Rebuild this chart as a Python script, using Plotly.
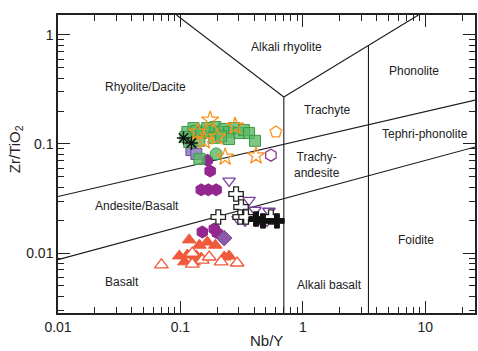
import plotly.graph_objects as go

# ---------------- data (Nb/Y, Zr/TiO2) ----------------
green_sq_x = [0.114, 0.128, 0.135, 0.148, 0.166, 0.175, 0.193, 0.208, 0.228, 0.250, 0.275,
              0.302, 0.331, 0.364, 0.407, 0.250, 0.189, 0.143, 0.118, 0.143, 0.110, 0.215]
green_sq_y = [0.129, 0.140, 0.132, 0.126, 0.140, 0.132, 0.143, 0.129, 0.137, 0.129, 0.140,
              0.126, 0.134, 0.126, 0.107, 0.111, 0.114, 0.107, 0.104, 0.073, 0.116, 0.118]
green_ci_x = [0.196]
green_ci_y = [0.081]

star_x = [0.175, 0.138, 0.157, 0.232, 0.415, 0.280, 0.200]
star_y = [0.166, 0.129, 0.107, 0.076, 0.078, 0.146, 0.116]

pent_x = [0.603]
pent_y = [0.129]
hexo_x = [0.549]
hexo_y = [0.079]

psq_x = [0.123, 0.135]
psq_y = [0.088, 0.081]

phex_x = [0.166, 0.175, 0.148, 0.169, 0.196, 0.151, 0.189, 0.200]
phex_y = [0.071, 0.0565, 0.038, 0.038, 0.038, 0.0156, 0.0166, 0.0153]

pdia_x = [0.228]
pdia_y = [0.0137]

ptri_x = [0.250, 0.364, 0.407, 0.529, 0.296, 0.338, 0.456, 0.510]
ptri_y = [0.0458, 0.0306, 0.0248, 0.0243, 0.0205, 0.0197, 0.0197, 0.0197]

wcr_x = [0.285, 0.313, 0.204, 0.308, 0.344, 0.549]
wcr_y = [0.0348, 0.0264, 0.0214, 0.0214, 0.0214, 0.0214]

bcr_x = [0.415, 0.473, 0.615]
bcr_y = [0.0205, 0.0197, 0.0197]

rtri_x = [0.118, 0.143, 0.166, 0.193, 0.098, 0.114, 0.135, 0.148, 0.108, 0.128, 0.228, 0.250]
rtri_y = [0.0132, 0.0118, 0.0126, 0.0118, 0.0094, 0.0096, 0.0094, 0.0090, 0.0083, 0.0083, 0.0092, 0.0094]

rtro_x = [0.070, 0.125, 0.151, 0.172, 0.125, 0.291, 0.215]
rtro_y = [0.0078, 0.0100, 0.0086, 0.0092, 0.0079, 0.0081, 0.0083]

ast_x = [0.106, 0.123]
ast_y = [0.1135, 0.102]

# field boundaries (Pearce 1996 style)
b1_x = [0.093, 0.70]; b1_y = [1.524, 0.27]
b2_x = [0.70, 8.8];   b2_y = [0.27, 1.524]
b3_x = [0.70, 0.70];  b3_y = [0.27, 0.001]
b4_x = [3.44, 3.44];  b4_y = [0.81, 0.001]
b5_x = [0.01, 25.7];  b5_y = [0.033, 0.253]
b6_x = [0.01, 25.7];  b6_y = [0.0087, 0.094]

field_names = ["Alkali rhyolite", "Rhyolite/Dacite", "Phonolite", "Trachyte", "Tephri-phonolite",
               "Trachy-<br>andesite", "Andesite/Basalt", "Basalt", "Alkali basalt", "Foidite"]
field_lx = [-0.130, -1.285, 0.911, 0.203, 1.000, 0.114, -1.358, -1.480, 0.220, 0.927]
field_ly = [-0.110, -0.477, -0.330, -0.688, -0.908, -1.193, -1.569, -2.270, -2.294, -1.881]

x_ticks = [0.01, 0.1, 1, 10]
x_tick_text = ["0.01", "0.1", "1", "10"]
y_ticks = [0.01, 0.1, 1]
y_tick_text = ["0.01", "0.1", "1"]

fig = go.Figure()

for bx, by in [(b1_x, b1_y), (b2_x, b2_y), (b3_x, b3_y), (b4_x, b4_y), (b5_x, b5_y), (b6_x, b6_y)]:
    fig.add_trace(go.Scatter(x=bx, y=by, mode="lines", line=dict(color="#1a1a1a", width=1.1),
                             hoverinfo="skip"))

def add(x, y, symbol, size, color, line_color, lw=1.0):
    fig.add_trace(go.Scatter(x=x, y=y, mode="markers",
                             marker=dict(symbol=symbol, size=size, color=color,
                                         line=dict(color=line_color, width=lw))))

RED = "#f05a3c"
add(rtri_x, rtri_y, "triangle-up", 12, RED, RED)
add(rtro_x, rtro_y, "triangle-up", 12, "white", RED, 1.3)
add(phex_x, phex_y, "hexagon", 12, "#93278f", "#93278f")
add(pdia_x, pdia_y, "diamond", 12, "#8a5aa8", "#7a4a98")
add(ptri_x, ptri_y, "triangle-down-open", 11, "#7b3f9e", "#7b3f9e", 1.3)
add(wcr_x, wcr_y, "cross", 12, "white", "#222222", 1.3)
add(bcr_x, bcr_y, "cross", 12, "#111111", "#111111", 1.0)
add(psq_x, psq_y, "square", 11, "#9c8fc7", "#6b4f9e")
add(green_sq_x, green_sq_y, "square", 11, "rgba(90,185,100,0.8)", "#3a9a48")
add(green_ci_x, green_ci_y, "circle", 12, "rgba(90,185,100,0.8)", "#3a9a48")
add(star_x, star_y, "star-open", 13, "#f7941d", "#f7941d", 1.3)
add(pent_x, pent_y, "pentagon-open", 12, "#f7941d", "#f7941d", 1.3)
add(hexo_x, hexo_y, "hexagon-open", 12, "#8e3a9a", "#8e3a9a", 1.3)
add(ast_x, ast_y, "asterisk-open", 11, "#111111", "#111111", 1.5)

for t, lx, ly in zip(field_names, field_lx, field_ly):
    fig.add_annotation(x=lx, y=ly, xref="x", yref="y", text=t, showarrow=False,
                       font=dict(family="Liberation Sans, Arial", size=12, color="#222222"))

# axis titles
fig.add_annotation(x=0.5, y=-0.093, xref="paper", yref="paper", text="Nb/Y", showarrow=False,
                   font=dict(family="Liberation Sans, Arial", size=15, color="#222222"),
                   xanchor="center", yanchor="middle")
fig.add_annotation(x=-0.103, y=0.55, xref="paper", yref="paper", text="Zr/TiO<sub>2</sub>",
                   showarrow=False, textangle=-90,
                   font=dict(family="Liberation Sans, Arial", size=15, color="#222222"),
                   xanchor="center", yanchor="middle")

axis_common = dict(
    showgrid=False, zeroline=False, showline=True, linecolor="#222222", linewidth=1.5,
    mirror="ticks", ticks="inside", ticklen=12, tickwidth=1, tickcolor="#222222",
    tickfont=dict(family="Liberation Sans, Arial", size=14, color="#222222"),
    minor=dict(ticks="inside", ticklen=6, tickwidth=1, tickcolor="#222222", dtick="D1", showgrid=False),
)

fig.update_xaxes(type="log", range=[-2, 1.407], tickvals=x_ticks, ticktext=x_tick_text, **axis_common)
fig.update_yaxes(type="log", range=[-2.55, 0.183], tickvals=y_ticks, ticktext=y_tick_text, **axis_common)

fig.update_layout(width=478, height=351, margin=dict(l=58, r=1, t=15, b=38),
                  paper_bgcolor="white", plot_bgcolor="white", showlegend=False)

fig.write_html("out.html")
